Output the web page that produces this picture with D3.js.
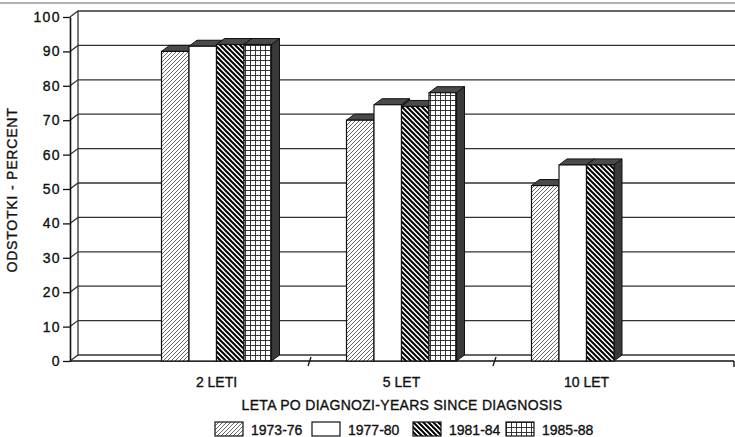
<!DOCTYPE html>
<html>
<head>
<meta charset="utf-8">
<script src="https://cdn.jsdelivr.net/npm/d3@7"></script>
<style>
  body { margin: 0; background: #fff; }
  text { font-family: "Liberation Sans", Arial, sans-serif; fill: #111; stroke: #111; stroke-width: 0.35px; }
</style>
</head>
<body>
<div id="chart"></div>
<script>
// data
var categories = ["2 LETI", "5 LET", "10 LET"];
var series = ["1973-76", "1977-80", "1981-84", "1985-88"];
var v1973 = [90, 70, 51];
var v1977 = [91.5, 74.5, 57];
var v1981 = [92, 74, 57];
var v1985 = [92, 78, null];
var yTicks = [0, 10, 20, 30, 40, 50, 60, 70, 80, 90, 100];
var yTitle = "ODSTOTKI - PERCENT";
var xTitle = "LETA PO DIAGNOZI-YEARS SINCE DIAGNOSIS";

var width = 735, height = 437;
var axisX = 70, rightX = 734;
var dx = 8, dy = -6;   // 3d depth offset

var svg = d3.select("#chart").append("svg")
    .attr("width", width)
    .attr("height", height);

var defs = svg.append("defs");

// hatch patterns
var p1 = defs.append("pattern").attr("id", "p1973")
    .attr("patternUnits", "userSpaceOnUse").attr("width", 4).attr("height", 4);
p1.append("rect").attr("width", 4).attr("height", 4).attr("fill", "#fff");
p1.append("path").attr("d", "M-1,1 l2,-2 M0,4 l4,-4 M3,5 l2,-2")
    .attr("stroke", "#444").attr("stroke-width", 0.8);

var p3 = defs.append("pattern").attr("id", "p1981")
    .attr("patternUnits", "userSpaceOnUse").attr("width", 5).attr("height", 5);
p3.append("rect").attr("width", 5).attr("height", 5).attr("fill", "#fff");
p3.append("path").attr("d", "M-1,4 l2,2 M0,0 l5,5 M4,-1 l2,2")
    .attr("stroke", "#000").attr("stroke-width", 2);

var p4 = defs.append("pattern").attr("id", "p1985")
    .attr("patternUnits", "userSpaceOnUse").attr("width", 5).attr("height", 5);
p4.append("rect").attr("width", 5).attr("height", 5).attr("fill", "#fff");
p4.append("path").attr("d", "M0,0.5 H5 M0.5,0 V5")
    .attr("stroke", "#222").attr("stroke-width", 0.9);

var fills = {
    "1973-76": "url(#p1973)",
    "1977-80": "#fff",
    "1981-84": "url(#p1981)",
    "1985-88": "url(#p1985)"
};

var yScale = d3.scaleLinear().domain([0, 100]).range([361, 17]);
var x0 = d3.scaleBand().domain(categories).range([124, 679]);
var x1 = d3.scaleBand().domain(series).range([37.5, 147.5]);

// scan border at the very top
svg.append("line")
    .attr("x1", 0).attr("x2", width).attr("y1", 3).attr("y2", 3)
    .attr("stroke", "#999").attr("stroke-width", 1.5);

// back wall grid + left wall diagonals
var grid = svg.append("g").attr("stroke", "#333").attr("stroke-width", 1.3).attr("fill", "none");
yTicks.forEach(function (t) {
    var y = yScale(t);
    grid.append("path")
        .attr("d", "M" + axisX + "," + y + " L" + (axisX + dx) + "," + (y + dy) + " H" + width);
});
// back wall left edge
grid.append("line")
    .attr("x1", axisX + dx).attr("x2", axisX + dx)
    .attr("y1", yScale(100) + dy).attr("y2", yScale(0) + dy);

// front floor line
svg.append("line")
    .attr("x1", axisX).attr("x2", rightX)
    .attr("y1", yScale(0)).attr("y2", yScale(0))
    .attr("stroke", "#111").attr("stroke-width", 1.6);
svg.append("line")
    .attr("x1", rightX).attr("x2", rightX)
    .attr("y1", yScale(0)).attr("y2", yScale(0) + 6)
    .attr("stroke", "#111").attr("stroke-width", 1.4);

// category separator ticks on the floor
categories.slice(1).forEach(function (c) {
    var x = x0(c);
    svg.append("line")
        .attr("x1", x + 2).attr("y1", yScale(0) - 4)
        .attr("x2", x - 1).attr("y2", yScale(0) + 5)
        .attr("stroke", "#111").attr("stroke-width", 1.3);
});

// y axis
var yAxis = svg.append("g")
    .attr("transform", "translate(" + axisX + ",0)")
    .call(d3.axisLeft(yScale).tickValues(yTicks).tickSize(7).tickSizeOuter(0).tickPadding(2));
yAxis.select(".domain").attr("stroke", "#111").attr("stroke-width", 1.6);
yAxis.selectAll(".tick line").attr("stroke", "#111").attr("stroke-width", 1.3);
yAxis.selectAll(".tick text")
    .style("font-family", "'Liberation Sans', Arial, sans-serif")
    .style("font-size", "14px")
    .style("letter-spacing", "1.4px")
    .attr("fill", "#111");

// bars, drawn left to right so each front face covers the neighbour's side
var rows = [];
categories.forEach(function (c, i) {
    [v1973, v1977, v1981, v1985].forEach(function (vals, j) {
        if (vals[i] != null) rows.push({ cat: c, s: series[j], v: vals[i] });
    });
});

var bars = svg.append("g").selectAll("g.bar")
    .data(rows)
    .enter().append("g")
    .attr("class", "bar");

bars.each(function (d) {
    var g = d3.select(this);
    var x = x0(d.cat) + x1(d.s), w = x1.bandwidth();
    var yt = yScale(d.v), yb = yScale(0);
    // side face
    g.append("path")
        .attr("d", "M" + (x + w) + "," + yt + " L" + (x + w + dx) + "," + (yt + dy) +
            " L" + (x + w + dx) + "," + (yb + dy) + " L" + (x + w) + "," + yb + "Z")
        .attr("fill", "#3a3a3a").attr("stroke", "#111").attr("stroke-width", 1);
    // top face
    g.append("path")
        .attr("d", "M" + x + "," + yt + " L" + (x + dx) + "," + (yt + dy) +
            " L" + (x + w + dx) + "," + (yt + dy) + " L" + (x + w) + "," + yt + "Z")
        .attr("fill", "#4a4a4a").attr("stroke", "#111").attr("stroke-width", 1);
    // front face
    g.append("rect")
        .attr("x", x).attr("y", yt)
        .attr("width", w).attr("height", yb - yt)
        .attr("fill", fills[d.s]).attr("stroke", "#111").attr("stroke-width", 1.2);
});

// x labels
var xAxis = svg.append("g")
    .attr("transform", "translate(0," + yScale(0) + ")")
    .call(d3.axisBottom(x0).tickSize(0).tickPadding(16));
xAxis.select(".domain").remove();
xAxis.selectAll(".tick text")
    .style("font-family", "'Liberation Sans', Arial, sans-serif")
    .style("font-size", "14px")
    .attr("fill", "#111");

// axis titles
svg.append("text")
    .attr("x", 402).attr("y", 410)
    .attr("text-anchor", "middle")
    .style("font-size", "14px")
    .style("letter-spacing", "0.3px")
    .text(xTitle);

svg.append("text")
    .attr("transform", "translate(17,190) rotate(-90)")
    .attr("text-anchor", "middle")
    .style("font-size", "14px")
    .style("letter-spacing", "0.8px")
    .text(yTitle);

// legend
var legendX = [215, 312, 413, 506];
var legend = svg.selectAll(".legend")
    .data(series)
    .enter().append("g")
    .attr("class", "legend")
    .attr("transform", function (d, i) { return "translate(" + legendX[i] + ",422)"; });

legend.append("rect")
    .attr("width", 28).attr("height", 14)
    .attr("fill", function (d) { return fills[d]; })
    .attr("stroke", "#111").attr("stroke-width", 1.2);

legend.append("text")
    .attr("x", 36).attr("y", 13)
    .style("font-size", "14px")
    .text(function (d) { return d; });
</script>
</body>
</html>
